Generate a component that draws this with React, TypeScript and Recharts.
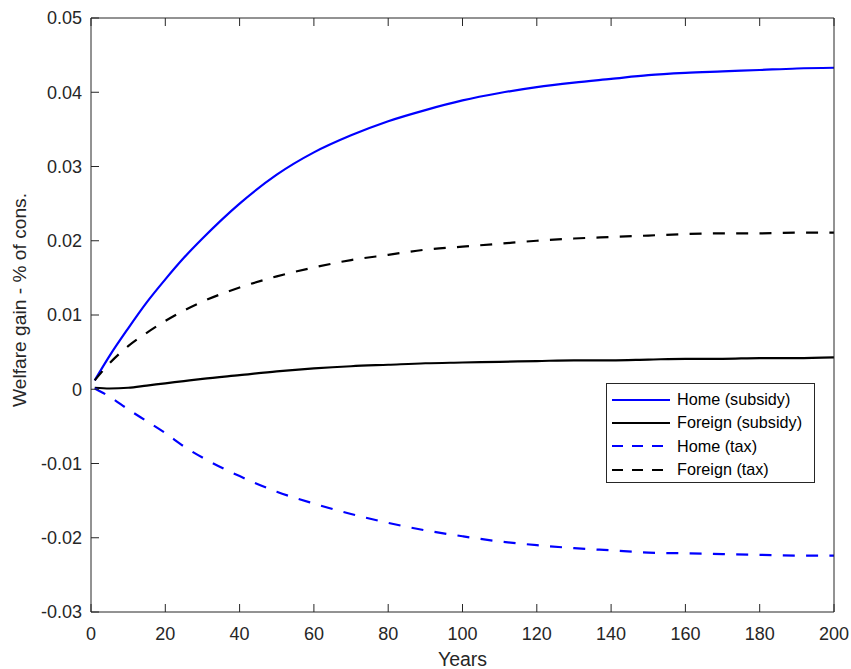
import React from 'react';
import { LineChart, Line, XAxis, YAxis, Legend, Label } from 'recharts';

// years and welfare gains (% of consumption)
const years = [1, 5, 10, 15, 20, 25, 30, 40, 50, 60, 70, 80, 90, 100, 110, 120, 130, 140, 150, 160, 170, 180, 190, 200];
const homeSubsidy = [0.0012, 0.0045, 0.0082, 0.0117, 0.0148, 0.0177, 0.0203, 0.025, 0.0289, 0.0319, 0.0342, 0.0361, 0.0376, 0.0389, 0.0399, 0.0407, 0.0413, 0.0418, 0.0423, 0.0426, 0.0428, 0.043, 0.0432, 0.0433];
const foreignSubsidy = [0.0002, 0.0001, 0.0002, 0.0005, 0.0008, 0.0011, 0.0014, 0.0019, 0.0024, 0.0028, 0.0031, 0.0033, 0.0035, 0.0036, 0.0037, 0.0038, 0.0039, 0.0039, 0.004, 0.0041, 0.0041, 0.0042, 0.0042, 0.0043];
const homeTax = [0.0001, -0.001, -0.0027, -0.0043, -0.0059, -0.0077, -0.0092, -0.0117, -0.0138, -0.0154, -0.0168, -0.018, -0.019, -0.0198, -0.0205, -0.021, -0.0214, -0.0217, -0.022, -0.0221, -0.0222, -0.0223, -0.0224, -0.0224];
const foreignTax = [0.0012, 0.0035, 0.0058, 0.0076, 0.0092, 0.0106, 0.0118, 0.0137, 0.0152, 0.0164, 0.0174, 0.0181, 0.0188, 0.0192, 0.0196, 0.02, 0.0203, 0.0205, 0.0207, 0.0209, 0.021, 0.021, 0.0211, 0.0211];

const xTicks = [0, 20, 40, 60, 80, 100, 120, 140, 160, 180, 200];
const yTicks = [-0.03, -0.02, -0.01, 0, 0.01, 0.02, 0.03, 0.04, 0.05];

const series = [
  { key: 'homeSubsidy', name: 'Home (subsidy)', color: '#0000ff', dashed: false },
  { key: 'foreignSubsidy', name: 'Foreign (subsidy)', color: '#000000', dashed: false },
  { key: 'homeTax', name: 'Home (tax)', color: '#0000ff', dashed: true },
  { key: 'foreignTax', name: 'Foreign (tax)', color: '#000000', dashed: true },
];

const data = years.map((year, i) => ({
  year,
  homeSubsidy: homeSubsidy[i],
  foreignSubsidy: foreignSubsidy[i],
  homeTax: homeTax[i],
  foreignTax: foreignTax[i],
}));

const FONT = '"Liberation Sans", Arial, Helvetica, sans-serif';
const AXIS = '#262626';
const DASH = '12 11.3';
const TICK = 8; // inward tick length

const fmtY = (v: number) => (v === 0 ? '0' : v.toFixed(2));

// tick renderers: MATLAB-style ticks pointing into the plot box
const BottomTick = (p: any) => (
  <g>
    <line x1={p.x} x2={p.x} y1={p.y - 15} y2={p.y - 15 - TICK} stroke={AXIS} />
    <text x={p.x} y={p.y} dy="0.71em" textAnchor="middle" fill={AXIS} fontSize={18} fontFamily={FONT}>
      {p.payload.value}
    </text>
  </g>
);
const LeftTick = (p: any) => (
  <g>
    <line x1={p.x + 9} x2={p.x + 9 + TICK} y1={p.y} y2={p.y} stroke={AXIS} />
    <text x={p.x} y={p.y} dy="0.355em" textAnchor="end" fill={AXIS} fontSize={18} fontFamily={FONT}>
      {fmtY(p.payload.value)}
    </text>
  </g>
);
const TopTick = (p: any) => <line x1={p.x} x2={p.x} y1={p.y} y2={p.y + TICK} stroke={AXIS} />;
const RightTick = (p: any) => <line x1={p.x} x2={p.x - TICK} y1={p.y} y2={p.y} stroke={AXIS} />;

const LegendBox = () => (
  <div
    style={{
      width: 209,
      height: 100,
      border: `1px solid ${AXIS}`,
      background: '#fff',
      fontFamily: FONT,
      fontSize: 16.2,
      color: '#000',
      paddingTop: 4,
      boxSizing: 'border-box',
    }}
  >
    {series.map(s => (
      <div key={s.key} style={{ display: 'flex', alignItems: 'center', height: 23.3 }}>
        <svg width={70} height={10} style={{ flex: 'none' }}>
          <line
            x1={5}
            x2={63}
            y1={5}
            y2={5}
            stroke={s.color}
            strokeWidth={2.2}
            strokeDasharray={s.dashed ? '11 9' : undefined}
          />
        </svg>
        <span style={{ whiteSpace: 'nowrap' }}>{s.name}</span>
      </div>
    ))}
  </div>
);

export default function App() {
  return (
    <div style={{ position: 'absolute', left: 0, top: 0, width: 851, height: 669, background: '#fff' }}>
      <LineChart
        width={851}
        height={669}
        data={data}
        margin={{ top: 17, right: 16, bottom: 0, left: 0 }}
        style={{ fontFamily: FONT }}
      >
        <XAxis
          xAxisId="x"
          dataKey="year"
          type="number"
          domain={[0, 200]}
          ticks={xTicks}
          height={57}
          stroke={AXIS}
          tickLine={false}
          tickSize={0}
          tickMargin={15}
          tick={BottomTick}
          interval={0}
        >
          <Label
            content={() => (
              <text x={462.5} y={666} textAnchor="middle" fill={AXIS} fontSize={19.5} fontFamily={FONT}>
                Years
              </text>
            )}
          />
        </XAxis>
        <XAxis
          xAxisId="xt"
          dataKey="year"
          type="number"
          orientation="top"
          domain={[0, 200]}
          ticks={xTicks}
          height={1}
          stroke={AXIS}
          tickLine={false}
          tickSize={0}
          tickMargin={0}
          tick={TopTick}
          interval={0}
        />
        <YAxis
          yAxisId="y"
          type="number"
          domain={[-0.03, 0.05]}
          ticks={yTicks}
          width={91}
          stroke={AXIS}
          tickLine={false}
          tickSize={0}
          tickMargin={9}
          tick={LeftTick}
          interval={0}
        >
          <Label
            content={() => (
              <text
                x={26}
                y={300}
                transform="rotate(-90, 26, 300)"
                textAnchor="middle"
                fill={AXIS}
                fontSize={19.2}
                fontFamily={FONT}
              >
                Welfare gain - % of cons.
              </text>
            )}
          />
        </YAxis>
        <YAxis
          yAxisId="yr"
          type="number"
          orientation="right"
          domain={[-0.03, 0.05]}
          ticks={yTicks}
          width={1}
          stroke={AXIS}
          tickLine={false}
          tickSize={0}
          tickMargin={0}
          tick={RightTick}
          interval={0}
        />
        <Legend
          layout="horizontal"
          verticalAlign="middle"
          align="center"
          content={() => <LegendBox />}
          wrapperStyle={{ position: 'absolute', left: 606, top: 383, width: 209, height: 100 }}
        />
        {series.map(s => (
          <Line
            key={s.key}
            xAxisId="x"
            yAxisId="y"
            type="monotone"
            dataKey={s.key}
            name={s.name}
            stroke={s.color}
            strokeWidth={2.2}
            strokeDasharray={s.dashed ? DASH : undefined}
            dot={false}
            activeDot={false}
            isAnimationActive={false}
          />
        ))}
      </LineChart>
    </div>
  );
}
